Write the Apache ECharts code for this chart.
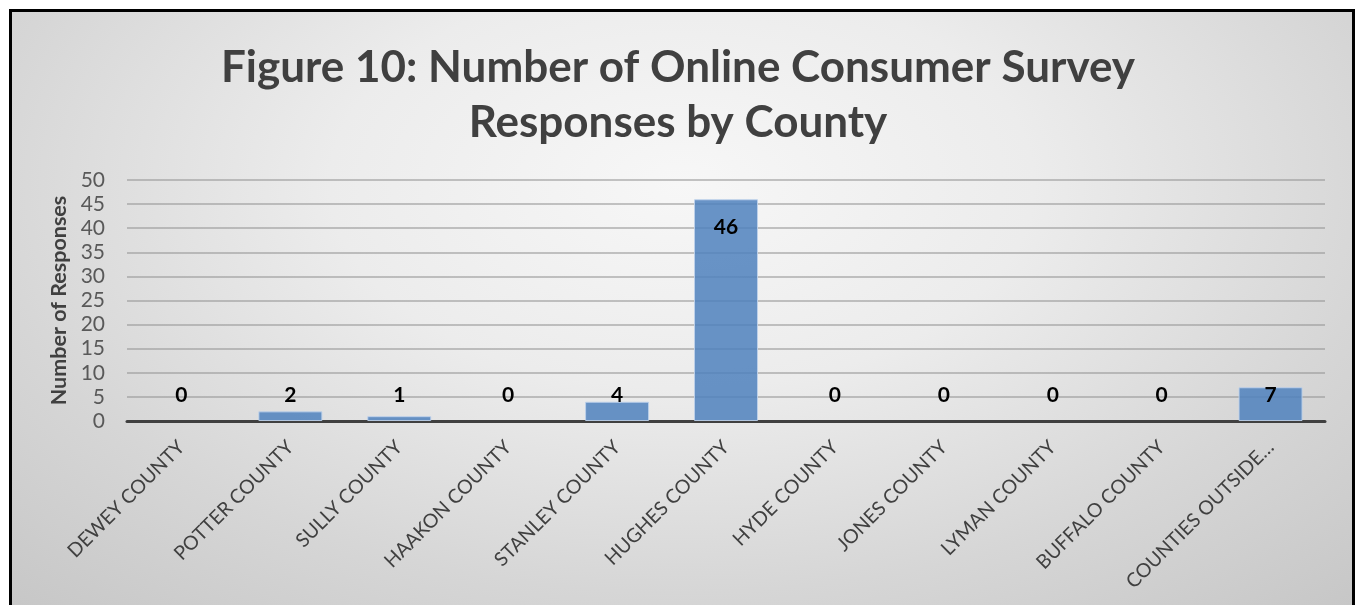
<!DOCTYPE html>
<html>
<head>
<meta charset="utf-8">
<script src="https://cdn.jsdelivr.net/npm/echarts@6/dist/echarts.min.js"></script>
<style>
  html, body { margin: 0; padding: 0; background: #ffffff; width: 1356px; height: 605px; overflow: hidden; }
  #frame {
    position: absolute; left: 9px; top: 9px; width: 1346px; height: 620px;
    box-sizing: border-box; border: 3px solid #000;
    background: radial-gradient(ellipse 75% 95% at 50% 28%, #f7f7f7 0%, #ececec 35%, #d6d6d6 70%, #c6c6c6 100%);
  }
  #chart { position: absolute; left: 0; top: 0; width: 1356px; height: 605px; }
</style>
</head>
<body>
<div id="frame"></div>
<div id="chart"></div>
<script>
// Survey responses per county
const counties = [
  'DEWEY COUNTY', 'POTTER COUNTY', 'SULLY COUNTY', 'HAAKON COUNTY', 'STANLEY COUNTY',
  'HUGHES COUNTY', 'HYDE COUNTY', 'JONES COUNTY', 'LYMAN COUNTY', 'BUFFALO COUNTY',
  'COUNTIES OUTSIDE…'
];
const responses = [0, 2, 1, 0, 4, 46, 0, 0, 0, 0, 7];
const yTicks = { min: 0, max: 50, interval: 5 };

const titleText = 'Figure 10: Number of Online Consumer Survey\nResponses by County';
const yAxisName = 'Number of Responses';

const FONT = 'Lato, "Open Sans", sans-serif';

const chart = echarts.init(document.getElementById('chart'), null, { renderer: 'canvas' });

// Tall bars carry the label inside their top; short ones sit just above the axis.
// Empty bars get no outline so nothing shows at zero.
const barData = responses.map(v => ({
  value: v,
  itemStyle: v === 0 ? { borderWidth: 0 } : {},
  label: v > 10
    ? { position: 'insideTop', distance: 17 }
    : { position: 'insideBottom', distance: 15 }
}));

chart.setOption({
  backgroundColor: 'transparent',
  animation: false,
  title: {
    text: titleText,
    left: 'center',
    top: 35,
    textStyle: {
      fontFamily: FONT,
      fontSize: 44,
      fontWeight: 'bold',
      color: '#404040',
      lineHeight: 55
    }
  },
  grid: { left: 127, right: 31, top: 180, bottom: 184, containLabel: false },
  xAxis: {
    type: 'category',
    data: counties,
    axisLine: { show: true, lineStyle: { color: '#404040', width: 3 } },
    axisTick: { show: false },
    axisLabel: {
      interval: 0,
      rotate: 45,
      margin: 23,
      fontFamily: FONT,
      fontSize: 19.5,
      color: '#404040'
    }
  },
  yAxis: {
    type: 'value',
    min: yTicks.min,
    max: yTicks.max,
    interval: yTicks.interval,
    name: yAxisName,
    nameLocation: 'middle',
    nameGap: 56,
    nameTextStyle: {
      fontFamily: FONT,
      fontSize: 21.5,
      fontWeight: 'bold',
      color: '#404040'
    },
    axisLine: { show: false },
    axisTick: { show: false },
    axisLabel: {
      margin: 22,
      fontFamily: FONT,
      fontSize: 21,
      color: '#595959'
    },
    splitLine: { lineStyle: { color: 'rgba(150,150,150,0.55)', width: 2 } }
  },
  series: [{
    type: 'bar',
    data: barData,
    barWidth: 64,
    itemStyle: {
      color: 'rgba(79,129,189,0.85)',
      borderColor: 'rgba(190,210,235,0.9)',
      borderWidth: 1
    },
    label: {
      show: true,
      fontFamily: FONT,
      fontSize: 21,
      fontWeight: 'bold',
      color: '#000000'
    }
  }]
});
</script>
</body>
</html>
